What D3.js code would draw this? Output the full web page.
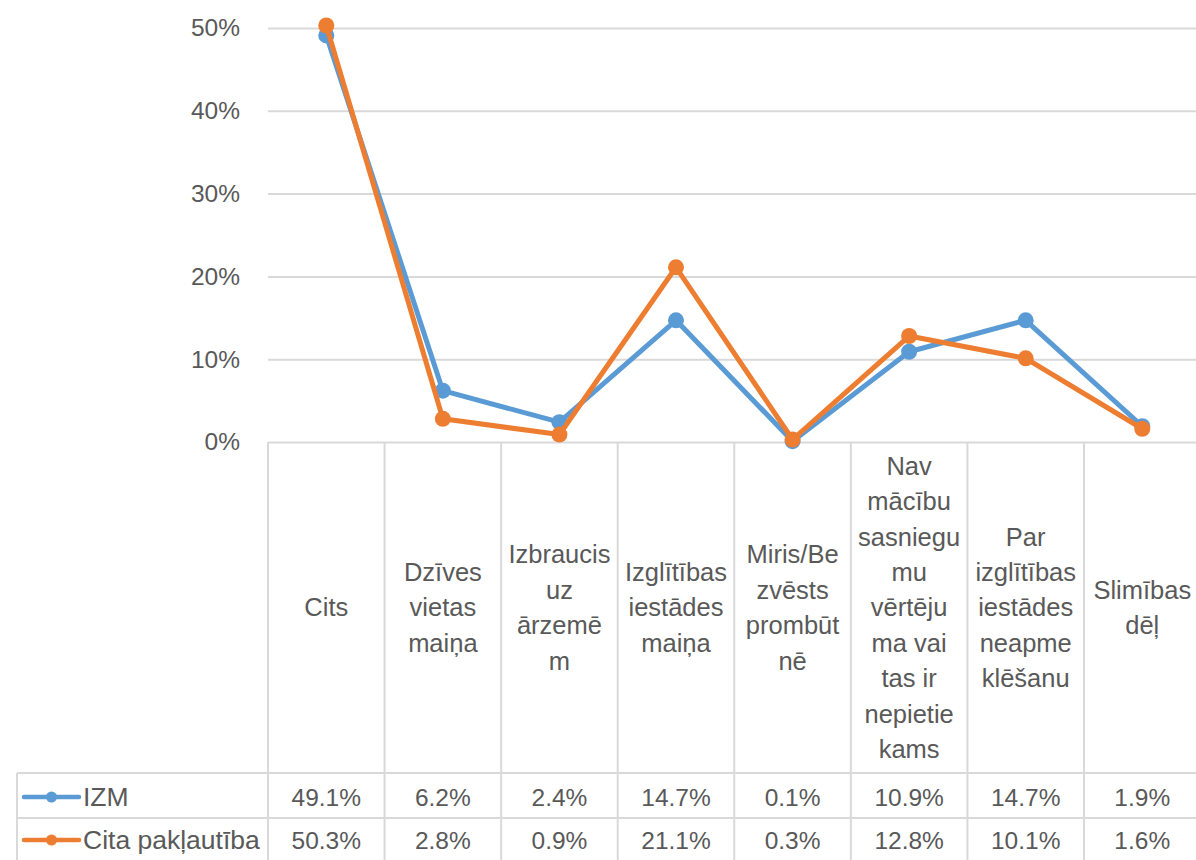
<!DOCTYPE html>
<html>
<head>
<meta charset="utf-8">
<script src="https://cdn.jsdelivr.net/npm/d3@7"></script>
<style>
  html, body { margin: 0; padding: 0; background: #fff; overflow: hidden; }
  svg { display: block; }
  text { font-family: "Liberation Sans", Arial, sans-serif; fill: #595959; }
</style>
</head>
<body>
<svg id="chart" width="1196" height="860"></svg>
<script>
// ---- data ----
const categories = [
  "Cits",
  "Dzīves vietas maiņa",
  "Izbraucis uz ārzemēm",
  "Izglītības iestādes maiņa",
  "Miris/Bezvēsts prombūtnē",
  "Nav mācību sasniegumu vērtējuma vai tas ir nepietiekams",
  "Par izglītības iestādes neapmeklēšanu",
  "Slimības dēļ"
];
// label lines as wrapped in the original table
const categoryLines = [
  ["Cits"],
  ["Dzīves", "vietas", "maiņa"],
  ["Izbraucis", "uz", "ārzemē", "m"],
  ["Izglītības", "iestādes", "maiņa"],
  ["Miris/Be", "zvēsts", "prombūt", "nē"],
  ["Nav", "mācību", "sasniegu", "mu", "vērtēju", "ma vai", "tas ir", "nepietie", "kams"],
  ["Par", "izglītības", "iestādes", "neapme", "klēšanu"],
  ["Slimības", "dēļ"]
];
const seriesNames = ["IZM", "Cita pakļautība"];
const izmValues  = [49.1, 6.2, 2.4, 14.7, 0.1, 10.9, 14.7, 1.9];
const citaValues = [50.3, 2.8, 0.9, 21.1, 0.3, 12.8, 10.1, 1.6];
const yTicks = [0, 10, 20, 30, 40, 50];
const colors = ["#5B9BD5", "#ED7D31"];

const series = [
  { name: seriesNames[0], values: izmValues, color: colors[0] },
  { name: seriesNames[1], values: citaValues, color: colors[1] }
];

// ---- layout ----
const svg = d3.select("#chart");
const plotLeft = 268, bandW = 116.57;
const plotRight = plotLeft + bandW * categories.length;
const plotTop = 28, plotBottom = 442;
const labelBottom = 773, row1Bottom = 818, tableBottom = 864;
const tableLeft = 17;
const grid = "#d9d9d9";
const numSize = "24.5px", wordSize = "25.5px";

const x = d3.scaleBand().domain(categories).range([plotLeft, plotRight]).padding(0);
const y = d3.scaleLinear().domain([0, 50]).range([plotBottom, plotTop]);

// gridlines + y labels via axis
const yAxis = d3.axisLeft(y)
  .tickValues(yTicks)
  .tickSize(-(plotRight - plotLeft))
  .tickPadding(28)
  .tickFormat(d => d + "%");
const gy = svg.append("g").attr("transform", `translate(${plotLeft},0)`).call(yAxis);
gy.select(".domain").remove();
gy.selectAll(".tick line").attr("stroke", grid).attr("stroke-width", 2);
gy.selectAll(".tick text")
  .attr("font-size", numSize)
  .attr("fill", "#595959")
  .attr("font-family", "Liberation Sans, Arial, sans-serif");

// table grid
const tg = svg.append("g").attr("stroke", grid).attr("stroke-width", 2).attr("fill", "none");
const bounds = categories.map(c => x(c)).concat([plotRight]);
tg.selectAll("line.v").data(bounds).join("line")
  .attr("x1", d => d).attr("x2", d => d)
  .attr("y1", plotBottom).attr("y2", tableBottom);
tg.append("line").attr("x1", tableLeft).attr("x2", tableLeft).attr("y1", labelBottom).attr("y2", tableBottom);
[labelBottom, row1Bottom].forEach(yy => {
  tg.append("line").attr("x1", tableLeft).attr("x2", plotRight).attr("y1", yy).attr("y2", yy);
});

// category labels
const lineH = 35.4;
const labelMid = (plotBottom + labelBottom) / 2;
categories.forEach((c, i) => {
  const lines = categoryLines[i];
  const cx = x(c) + x.bandwidth() / 2;
  const t = svg.append("text")
    .attr("text-anchor", "middle")
    .attr("font-size", wordSize)
    .attr("x", cx);
  lines.forEach((ln, j) => {
    t.append("tspan")
      .attr("x", cx)
      .attr("y", labelMid + (j - (lines.length - 1) / 2) * lineH)
      .attr("dy", "0.35em")
      .text(ln);
  });
});

// table values + legend keys
const rowMids = [797, 840];
series.forEach((s, si) => {
  svg.append("g").selectAll("text").data(s.values).join("text")
    .attr("x", (d, i) => x(categories[i]) + x.bandwidth() / 2)
    .attr("y", rowMids[si])
    .attr("dy", "0.35em")
    .attr("text-anchor", "middle")
    .attr("font-size", numSize)
    .text(d => d.toFixed(1) + "%");
  const lg = svg.append("g");
  lg.append("line").attr("x1", 24).attr("x2", 79).attr("y1", rowMids[si]).attr("y2", rowMids[si])
    .attr("stroke", s.color).attr("stroke-width", 4.5).attr("stroke-linecap", "round");
  lg.append("circle").attr("cx", 51.5).attr("cy", rowMids[si]).attr("r", 5.5).attr("fill", s.color);
  lg.append("text").attr("x", 83).attr("y", rowMids[si]).attr("dy", "0.35em")
    .attr("font-size", "26.5px").text(s.name);
});

// lines and markers
const line = d3.line()
  .x((d, i) => x(categories[i]) + x.bandwidth() / 2)
  .y(d => y(d));
series.forEach(s => {
  const g = svg.append("g");
  g.append("path").datum(s.values)
    .attr("d", line)
    .attr("fill", "none")
    .attr("stroke", s.color)
    .attr("stroke-width", 5)
    .attr("stroke-linejoin", "round")
    .attr("stroke-linecap", "round");
  g.selectAll("circle").data(s.values).join("circle")
    .attr("cx", (d, i) => x(categories[i]) + x.bandwidth() / 2)
    .attr("cy", d => y(d))
    .attr("r", 8)
    .attr("fill", s.color);
});
</script>
</body>
</html>
